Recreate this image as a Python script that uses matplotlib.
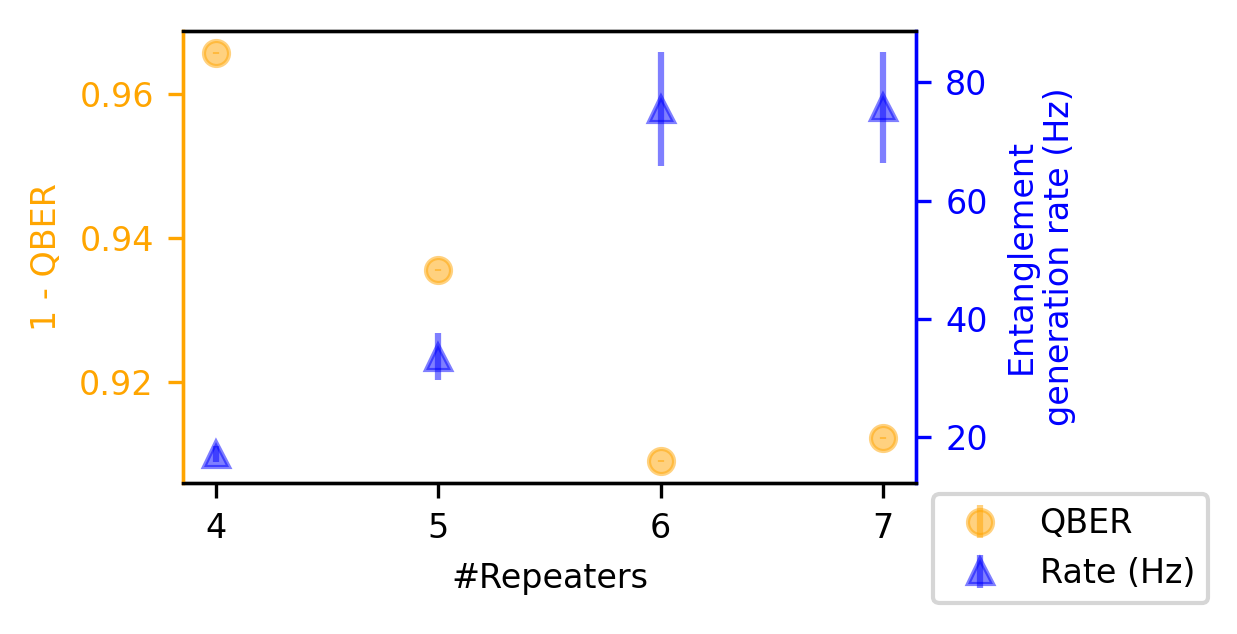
import matplotlib
matplotlib.use("Agg")
import matplotlib.pyplot as plt

repeaters = [4, 5, 6, 7]
fidelity = [0.9658, 0.9355, 0.9089, 0.9122]
fidelityErr = [0.00015, 0.00015, 0.00015, 0.00015]
rate = [17.1, 33.6, 75.5, 75.8]
rateErr = [1.4, 4.0, 9.7, 9.4]
fidelityTicks = [0.92, 0.94, 0.96]
rateTicks = [20, 40, 60, 80]

plt.rcParams["font.size"] = 8

def main():
	fig = plt.figure(figsize=(1237 / 300, 634 / 300), dpi=300)
	ax1 = fig.add_axes([183 / 1237, 1 - 483 / 634, (916 - 183) / 1237, (483 - 31) / 634])
	ax2 = ax1.twinx()

	h1 = ax1.errorbar(repeaters, fidelity, yerr=fidelityErr, fmt="o", color="orange", alpha=0.5, label="QBER")
	h2 = ax2.errorbar(repeaters, rate, yerr=rateErr, fmt="^", color="blue", alpha=0.5, label="Rate (Hz)")

	ax1.set_xticks(repeaters)
	ax1.set_yticks(fidelityTicks)
	ax2.set_yticks(rateTicks)
	ax1.set_xlabel("#Repeaters")
	ax1.set_ylabel("1 - QBER", color="orange")
	ax1.tick_params(axis="y", colors="orange")
	ax2.set_ylabel("Entanglement\ngeneration rate (Hz)", color="blue")
	ax2.tick_params(axis="y", colors="blue")
	ax2.spines["left"].set_color("orange")
	ax2.spines["right"].set_color("blue")
	ax1.spines["left"].set_color("orange")
	ax1.spines["right"].set_color("blue")

	ax2.legend([h1, h2], ["QBER", "Rate (Hz)"], loc="upper left",
			bbox_to_anchor=(1.023, -0.024), borderaxespad=0)

	fig.savefig("out.png", dpi=300)


if __name__ == '__main__':
	main()
